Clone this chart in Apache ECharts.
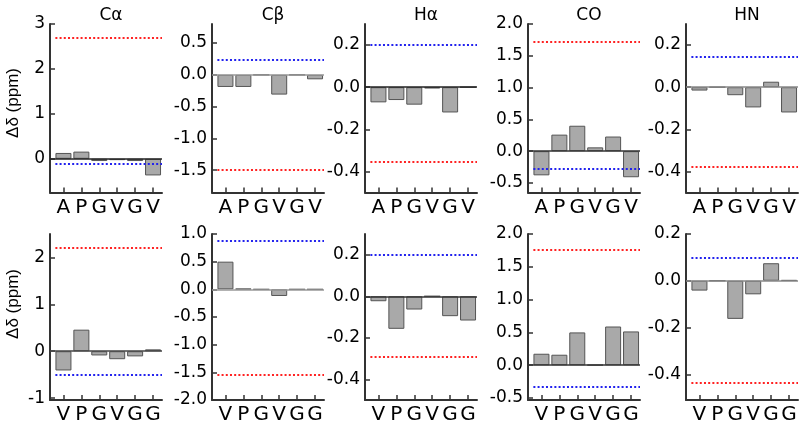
<!DOCTYPE html>
<html>
<head>
<meta charset="utf-8">
<script src="https://cdn.jsdelivr.net/npm/echarts@6/dist/echarts.min.js"></script>
<style>html,body{margin:0;padding:0;background:#fff}#c{width:800px;height:425px}</style>
</head>
<body>
<div id="c"></div>
<script>
// ---- data ----
const titles = ['Cα', 'Cβ', 'Hα', 'CO', 'HN'];
const topCats = ['A', 'P', 'G', 'V', 'G', 'V'];
const botCats = ['V', 'P', 'G', 'V', 'G', 'G'];

const topCa = [0.13, 0.16, -0.05, -0.03, -0.05, -0.37];
const topCb = [-0.19, -0.19, 0, -0.31, 0, -0.07];
const topHa = [-0.072, -0.061, -0.083, -0.006, -0.12, 0];
const topCO = [-0.38, 0.26, 0.40, 0.06, 0.23, -0.41];
const topHN = [-0.016, 0, -0.038, -0.096, 0.026, -0.12];

const botCa = [-0.41, 0.46, -0.09, -0.17, -0.11, 0.04];
const botCb = [0.50, 0.01, 0, -0.12, 0, 0];
const botHa = [-0.024, -0.157, -0.064, 0, -0.096, -0.117];
const botCO = [0.175, 0.16, 0.50, 0.005, 0.59, 0.515];
const botHN = [-0.042, 0, -0.163, -0.058, 0.075, 0.003];

const topRed = [2.7, -1.5, -0.355, 1.72, -0.38];
const topBlue = [-0.12, 0.24, 0.2, -0.27, 0.145];
const botRed = [2.2, -1.54, -0.29, 1.76, -0.435];
const botBlue = [-0.5, 0.88, 0.2, -0.33, 0.10];

const topTicks = [[0, 1, 2, 3], [-1.5, -1, -0.5, 0, 0.5], [-0.4, -0.2, 0, 0.2], [-0.5, 0, 0.5, 1, 1.5, 2], [-0.4, -0.2, 0, 0.2]];
const botTicks = [[-1, 0, 1, 2], [-2, -1.5, -1, -0.5, 0, 0.5, 1], [-0.4, -0.2, 0, 0.2], [-0.5, 0, 0.5, 1, 1.5, 2], [-0.4, -0.2, 0, 0.2]];
const topRange = [[-0.75, 3.0], [-1.85, 0.8], [-0.5, 0.3], [-0.65, 2.0], [-0.5, 0.3]];
const botRange = [[-1.04, 2.5], [-2.0, 1.0], [-0.5, 0.3], [-0.53, 2.0], [-0.51, 0.2]];
const yDecimals = [0, 1, 1, 1, 1];
const yName = 'Δδ (ppm)';

// ---- layout / style ----
const lefts = [50, 212, 365, 528, 686];
const gridW = 112;
const tops = [24, 234];
const gridH = 168.5;
const zeroColTop = ['#222', '#999', '#222', '#333', '#888'];
const zeroColBot = ['#444', '#999', '#333', '#333', '#888'];
const nameCenterY = [103, 304];

const rows = [
  { cats: topCats, vals: [topCa, topCb, topHa, topCO, topHN], red: topRed, blue: topBlue, ticks: topTicks, range: topRange, zero: zeroColTop },
  { cats: botCats, vals: [botCa, botCb, botHa, botCO, botHN], red: botRed, blue: botBlue, ticks: botTicks, range: botRange, zero: zeroColBot }
];

const axisCol = '#333';
const option = { animation: false, title: [], grid: [], xAxis: [], yAxis: [], series: [], graphic: [] };

titles.forEach((t, c) => {
  option.title.push({
    text: t, left: lefts[c] + gridW / 2, top: 2, textAlign: 'center',
    textStyle: { fontFamily: 'DejaVu Sans', fontSize: 17, fontWeight: 'normal', color: '#000' }
  });
});

nameCenterY.forEach(y => {
  option.graphic.push({
    type: 'text', x: 13, y: y, rotation: Math.PI / 2, silent: true,
    style: { text: yName, align: 'center', verticalAlign: 'middle', font: '17px "Liberation Sans"', fill: '#000' }
  });
});

rows.forEach((row, r) => {
  for (let c = 0; c < 5; c++) {
    const idx = r * 5 + c;
    const catIdx = row.cats.map((_, i) => i);
    option.grid.push({ left: lefts[c], top: tops[r], width: gridW, height: gridH });
    option.xAxis.push({
      gridIndex: idx, type: 'value', min: -0.75, max: 5.5,
      axisLine: { show: true, onZero: false, lineStyle: { color: axisCol, width: 2 } },
      axisTick: { show: true, inside: true, length: 5, customValues: catIdx, lineStyle: { color: axisCol, width: 1.5 } },
      axisLabel: {
        customValues: catIdx, margin: 5, formatter: v => row.cats[Math.round(v)],
        fontFamily: 'DejaVu Sans', fontSize: 20, color: '#000'
      },
      splitLine: { show: false }
    });
    const dec = yDecimals[c];
    option.yAxis.push({
      gridIndex: idx, type: 'value', min: row.range[c][0], max: row.range[c][1],
      axisLine: { show: true, onZero: false, lineStyle: { color: axisCol, width: 2 } },
      axisTick: { show: true, inside: true, length: 5, customValues: row.ticks[c], lineStyle: { color: axisCol, width: 1.5 } },
      axisLabel: {
        customValues: row.ticks[c], margin: 5, formatter: v => Number(v).toFixed(dec),
        fontFamily: 'DejaVu Sans', fontSize: 17, color: '#000'
      },
      splitLine: { show: false }
    });
    const dotted = (col) => ({ color: col, width: 2, type: [2, 2.2], opacity: 1 });
    option.series.push({
      type: 'bar', xAxisIndex: idx, yAxisIndex: idx,
      data: row.vals[c].map((v, i) => [i, v]),
      barWidth: 16,
      itemStyle: { color: '#a9a9a9', borderColor: '#555', borderWidth: 1 },
      markLine: {
        silent: true, symbol: ['none', 'none'], label: { show: false },
        emphasis: { disabled: true },
        data: [
          { yAxis: 0, lineStyle: { color: row.zero[c], width: 1.5, type: 'solid' } },
          [{ coord: [-0.45, row.red[c]], lineStyle: dotted('#ff2222') }, { coord: [5.5, row.red[c]], lineStyle: dotted('#ff2222') }],
          [{ coord: [-0.45, row.blue[c]], lineStyle: dotted('#2222ee') }, { coord: [5.5, row.blue[c]], lineStyle: dotted('#2222ee') }]
        ]
      }
    });
  }
});

const chart = echarts.init(document.getElementById('c'), null, { renderer: 'canvas' });
chart.setOption(option);
</script>
</body>
</html>
